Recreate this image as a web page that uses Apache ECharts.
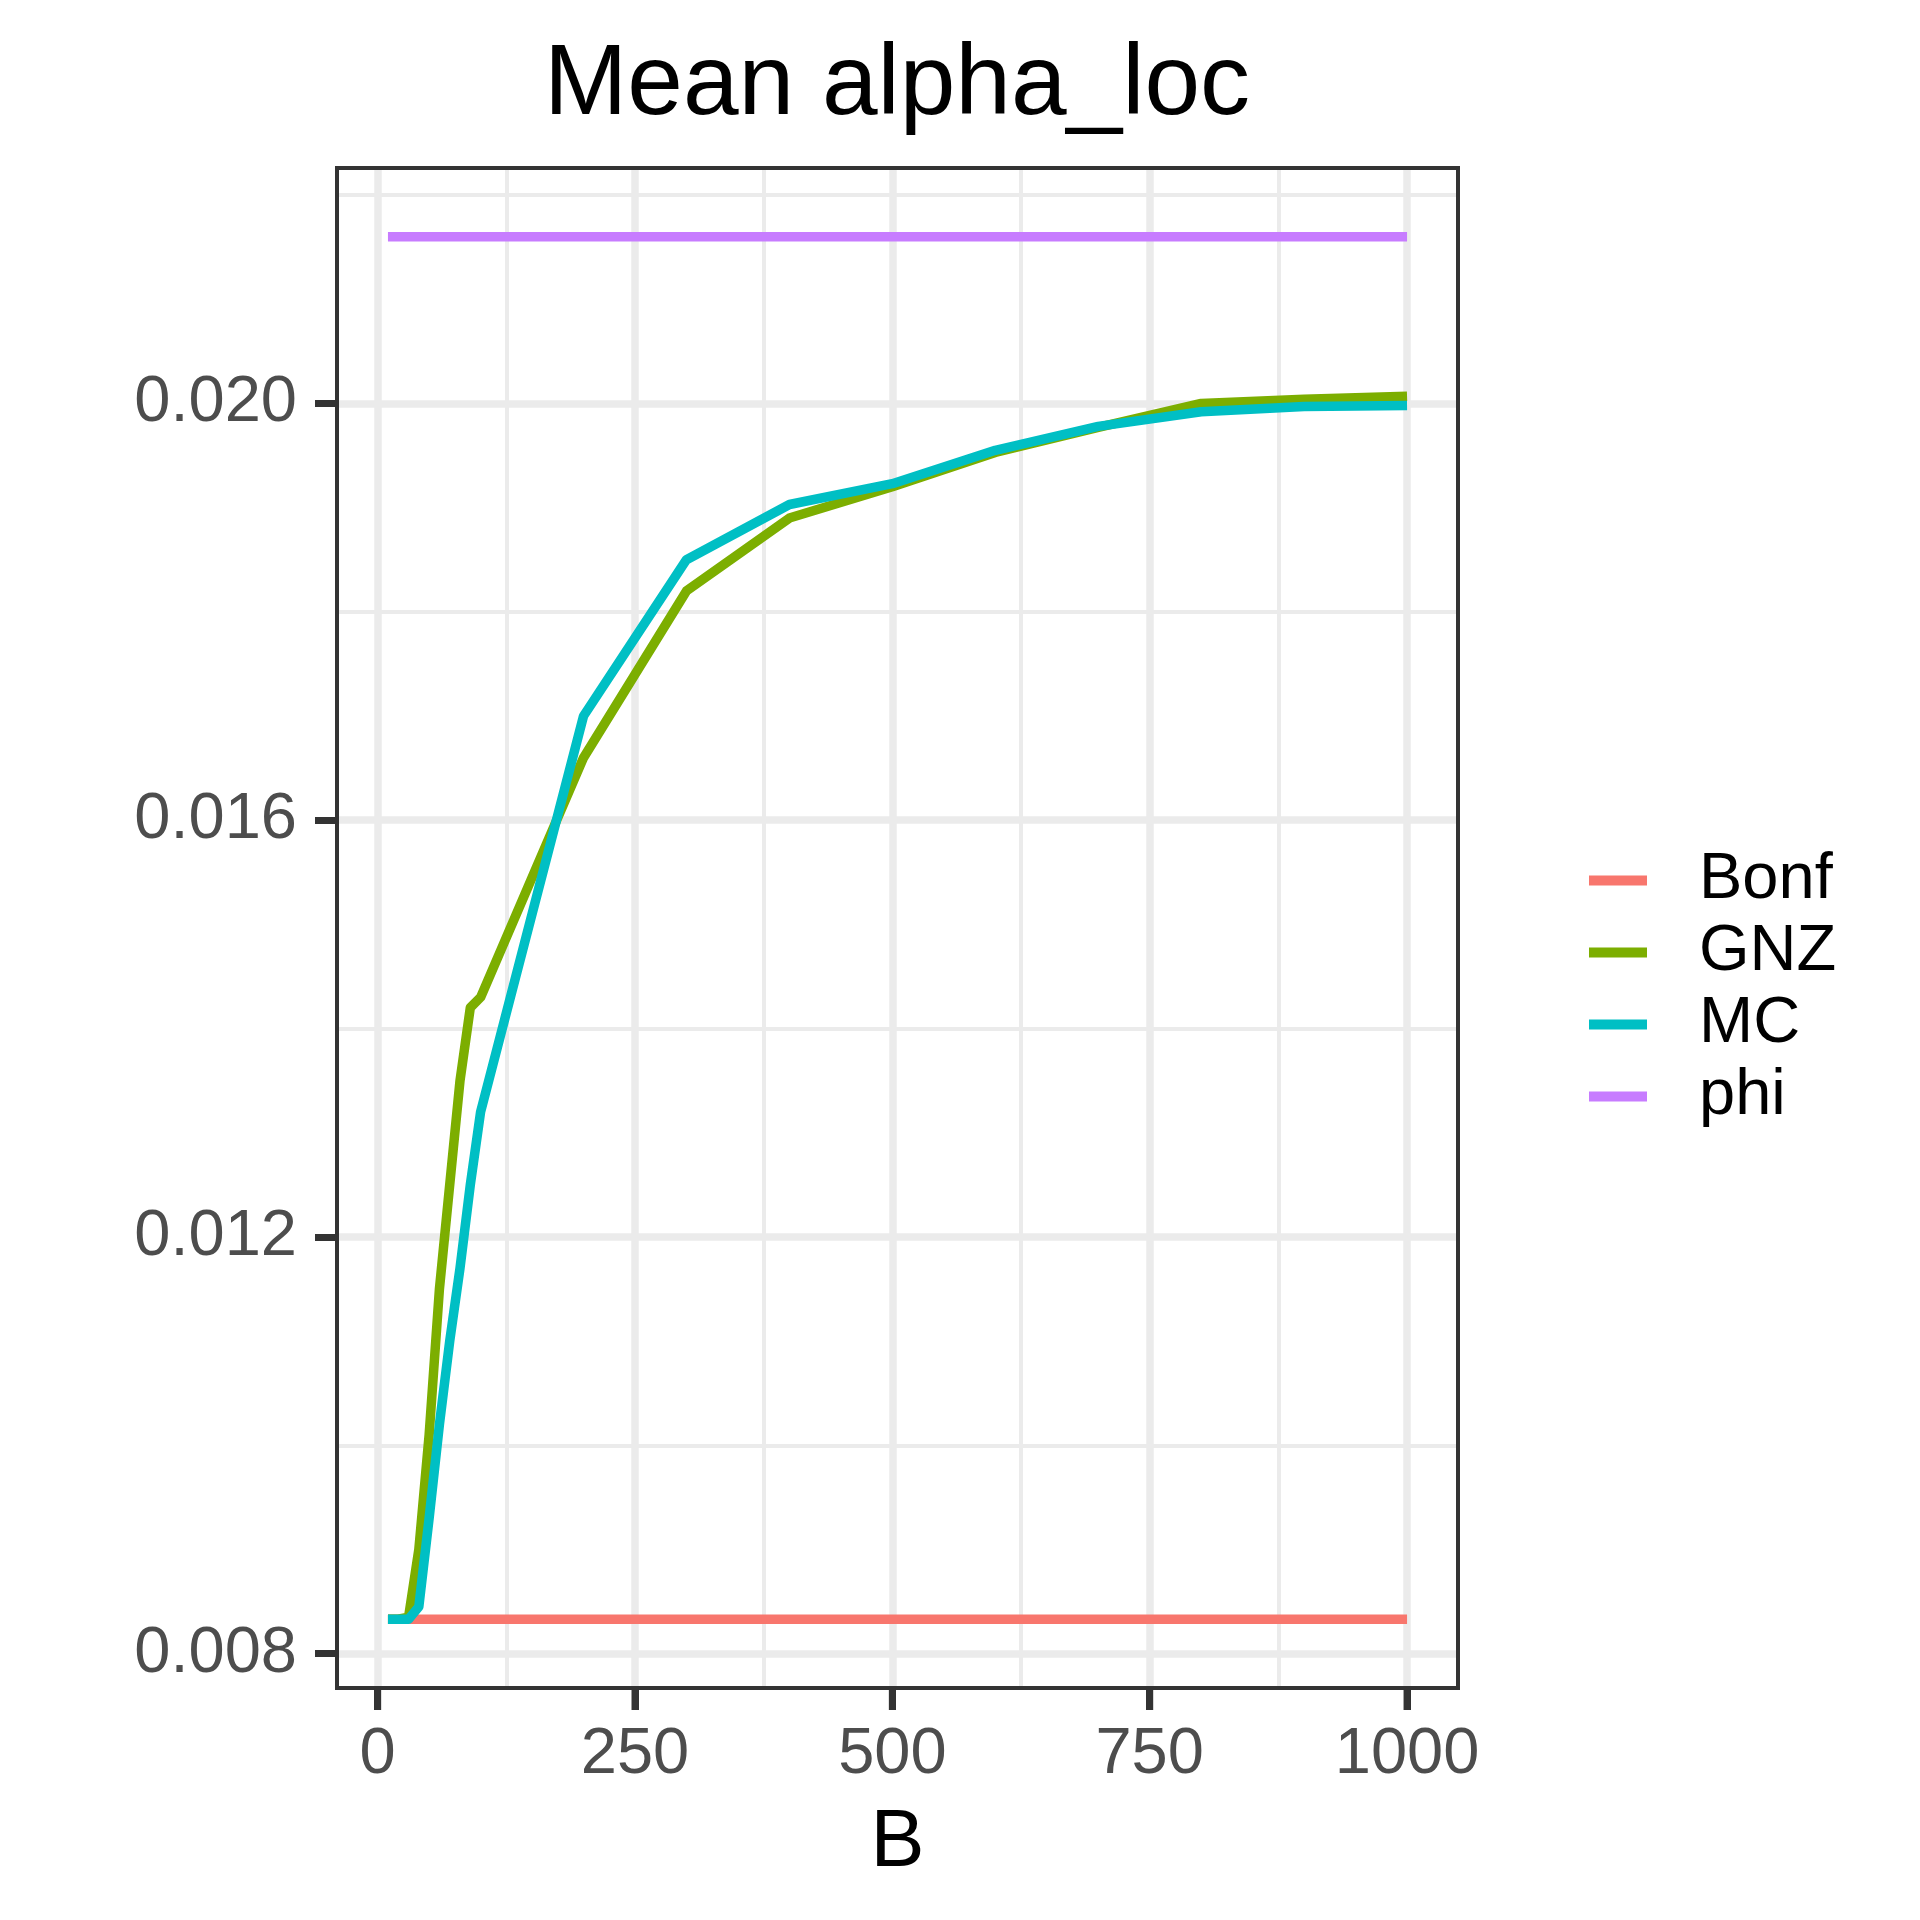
<!DOCTYPE html>
<html>
<head>
<meta charset="utf-8">
<title>Mean alpha_loc</title>
<script src="https://cdn.jsdelivr.net/npm/echarts@6/dist/echarts.min.js"></script>
<style>
  html, body { margin: 0; padding: 0; background: #fff; }
  #chart { width: 1920px; height: 1920px; }
</style>
</head>
<body>
<div id="chart"></div>
<script>
// B values (x) and mean alpha_loc per method
const B = [10, 20, 30, 40, 50, 60, 70, 80, 90, 100, 200, 300, 400, 500, 600, 700, 800, 900, 1000]
const bonf = [0.00833, 0.00833, 0.00833, 0.00833, 0.00833, 0.00833, 0.00833, 0.00833, 0.00833, 0.00833,
  0.00833, 0.00833, 0.00833, 0.00833, 0.00833, 0.00833, 0.00833, 0.00833, 0.00833]
const gnz = [0.00833, 0.00833, 0.00835, 0.0090, 0.0101, 0.0115, 0.0125, 0.0135, 0.0142, 0.0143,
  0.0166, 0.0182, 0.0189, 0.0192, 0.01953, 0.01977, 0.0200, 0.02004, 0.02007]
const mc = [0.00833, 0.00833, 0.00833, 0.00845, 0.0093, 0.0102, 0.0110, 0.0117, 0.0125, 0.0132,
  0.0170, 0.0185, 0.01903, 0.01923, 0.01955, 0.01978, 0.01992, 0.01997, 0.01998]
const phi = [0.0216, 0.0216, 0.0216, 0.0216, 0.0216, 0.0216, 0.0216, 0.0216, 0.0216, 0.0216,
  0.0216, 0.0216, 0.0216, 0.0216, 0.0216, 0.0216, 0.0216, 0.0216, 0.0216]

// axis breaks
const xTicks = [0, 250, 500, 750, 1000]
const xMinor = [125, 375, 625, 875]
const yTicks = [0.008, 0.012, 0.016, 0.020]
const yMinor = [0.010, 0.014, 0.018, 0.022]

const FONT = 'Liberation Sans, Arial, sans-serif'
const names = ['Bonf', 'GNZ', 'MC', 'phi']
const colors = ['#F8766D', '#7CAE00', '#00BFC4', '#C77CFF']
const values = [bonf, gnz, mc, phi]

// axis ranges (ggplot style 5% padding)
const X_MIN = -39.5
const X_MAX = 1049.5
const Y_MIN = 0.00767
const Y_MAX = 0.02226

const pairs = arr => B.map((b, i) => [b, arr[i]])

const gridLine = (w) => ({ color: '#EBEBEB', width: w, type: 'solid' })
const tickStyle = { color: '#333333', width: 7 }

const chart = echarts.init(document.getElementById('chart'), null, { renderer: 'canvas' })

const series = [
  // background grid lines, kept under the data
  {
    type: 'line',
    name: '_grid',
    data: [],
    z: 1,
    silent: true,
    markLine: {
      z: 1,
      silent: true,
      precision: 10,
      symbol: 'none',
      animation: false,
      label: { show: false },
      emphasis: { disabled: true },
      data: [
        ...yMinor.map(v => ({ yAxis: v, lineStyle: gridLine(4) })),
        ...xMinor.map(v => ({ xAxis: v, lineStyle: gridLine(4) })),
        ...yTicks.map(v => ({ yAxis: v, lineStyle: gridLine(7.5) })),
        ...xTicks.map(v => ({ xAxis: v, lineStyle: gridLine(7.5) }))
      ]
    }
  },
  ...names.map((n, i) => ({
    type: 'line',
    name: n,
    data: pairs(values[i]),
    showSymbol: false,
    symbol: 'none',
    z: 2,
    lineStyle: { color: colors[i], width: 9.5, join: 'round', cap: 'butt' },
    itemStyle: { color: colors[i] }
  })),
  // x tick marks below the panel
  {
    type: 'custom',
    name: '_xticks',
    silent: true,
    clip: false,
    z: 4,
    data: xTicks.map(v => [v, Y_MIN]),
    renderItem: (params, api) => {
      const p = api.coord([api.value(0), api.value(1)])
      return {
        type: 'line',
        shape: { x1: p[0], y1: p[1], x2: p[0], y2: p[1] + 22 },
        style: { stroke: tickStyle.color, lineWidth: tickStyle.width }
      }
    }
  }
]

const axisLine = { show: true, onZero: false, lineStyle: { color: '#333333', width: 4 } }

const option = {
  animation: false,
  backgroundColor: '#fff',
  title: {
    text: 'Mean alpha_loc',
    left: 892,
    top: 31,
    textAlign: 'center',
    textStyle: { fontFamily: FONT, fontSize: 100, fontWeight: 'normal', color: '#000' }
  },
  legend: {
    data: names,
    orient: 'vertical',
    left: 1584,
    top: 843,
    icon: 'rect',
    itemWidth: 58,
    itemHeight: 10,
    itemGap: 7,
    selectedMode: false,
    textStyle: { fontFamily: FONT, fontSize: 65, color: '#000', padding: [0, 0, 0, 47] }
  },
  grid: {
    left: 337,
    right: 462,
    top: 168,
    bottom: 232,
    show: true,
    z: 3,
    borderColor: '#333333',
    borderWidth: 4,
    backgroundColor: 'transparent'
  },
  xAxis: {
    type: 'value',
    position: 'bottom',
    min: X_MIN,
    max: X_MAX,
    name: 'B',
    nameLocation: 'middle',
    nameGap: 115,
    nameTextStyle: { fontFamily: FONT, fontSize: 81, color: '#000' },
    axisLine: axisLine,
    splitLine: { show: false },
    axisTick: { show: true, inside: false, length: 22, customValues: xTicks, lineStyle: tickStyle },
    axisLabel: {
      customValues: xTicks,
      margin: 35,
      fontFamily: FONT,
      fontSize: 65,
      color: '#4D4D4D',
      formatter: v => String(v)
    }
  },
  yAxis: {
    type: 'value',
    position: 'left',
    min: Y_MIN,
    max: Y_MAX,
    axisLine: axisLine,
    splitLine: { show: false },
    axisTick: { show: true, inside: false, length: 22, customValues: yTicks, lineStyle: tickStyle },
    axisLabel: {
      customValues: yTicks,
      margin: 40,
      fontFamily: FONT,
      fontSize: 65,
      color: '#4D4D4D',
      formatter: v => v.toFixed(3)
    }
  },
  series: series
}

chart.setOption(option)
</script>
</body>
</html>
